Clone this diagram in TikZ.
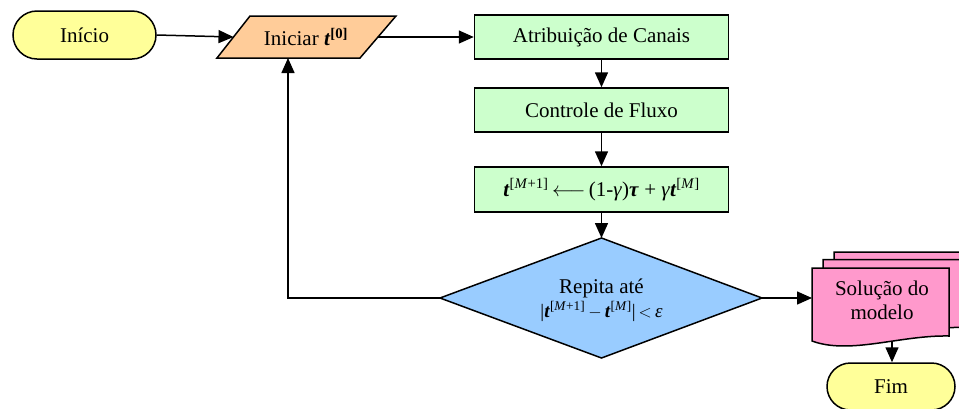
\documentclass[tikz,border=0pt]{standalone}
\usepackage{fontspec}
\setmainfont{Liberation Serif}
\usetikzlibrary{arrows.meta}
\definecolor{termfill}{HTML}{FFFF99}
\definecolor{iofill}{HTML}{FFCC99}
\definecolor{procfill}{HTML}{CCFFCC}
\definecolor{decfill}{HTML}{99CCFF}
\definecolor{docfill}{HTML}{FF99CC}
\newcommand{\bt}{\textbf{\textit{t}}}
\newcommand{\sps}[1]{\textsuperscript{#1}}
\tikzset{
  txt/.style={font=\rmfamily\fontsize{21}{24}\selectfont},
  base/.style={txt, draw, line width=1.5pt, inner sep=0pt},
  term/.style={base, fill=termfill, rounded corners=24pt, minimum width=143pt, minimum height=48pt},
  proc/.style={base, fill=procfill, minimum width=254pt, minimum height=44pt},
  shp/.style={draw, line width=1.5pt, line join=miter},
  lbl/.style={txt, align=center, inner sep=0pt},
  arr/.style={line width=1.5pt, -{Triangle[length=15pt,width=13pt]}},
}
\begin{document}
\begin{tikzpicture}[x=1pt,y=-1pt]
\useasboundingbox (0,0) rectangle (959,408);

% start terminator
\node[term] (start) at (84.5,35) {Início};

% parallelogram (input)
\draw[shp, fill=iofill] (217,58) -- (250,16) -- (396,16) -- (360,58) -- cycle;
\node[lbl] (ini) at (306,37) {Iniciar \bt\sps{\textbf{[0]}}};
\coordinate (inL) at (233.5,37);
\coordinate (inR) at (378,37);
\coordinate (inB) at (288,58);

% processes
\node[proc] (atr) at (601.5,37) {Atribuição de Canais};
\node[proc] (ctl) at (601.5,110) {Controle de Fluxo};
\node[proc, minimum height=45pt] (upd) at (601.5,189.5)
  {\bt\sps{[\textit{M}+1]}\,$\longleftarrow$\,(1-\textit{γ})\textbf{\textit{τ}} + \textit{γ}\bt\sps{[\textit{M}]}};

% decision diamond
\coordinate (dL) at (440,298);
\coordinate (dT) at (601.5,238);
\coordinate (dR) at (762,298);
\coordinate (dB) at (601.5,358);
\draw[shp, fill=decfill] (dL) -- (dT) -- (dR) -- (dB) -- cycle;
\node[lbl] (rep) at (601.5,300)
  {Repita até\\{\fontsize{19}{22}\selectfont|\bt\sps{[\textit{M}+1]}\,$-$\,\bt\sps{[\textit{M}]}|\,$<$\,\textit{ε}}};

% multi-document
\foreach \dx/\dy in {22/-16, 11/-8.5, 0/0}{
  \begin{scope}[shift={(\dx,\dy)}]
    \draw[shp, fill=docfill] (812,268) -- (949,268) -- (949,336)
      .. controls (900,335) and (850,355) .. (812,341) -- cycle;
  \end{scope}
}
\node[lbl] (sol) at (882,300) {Solução do\\modelo};
\coordinate (docL) at (812,298);
\coordinate (docB) at (892,341);

% end terminator
\node[term, minimum width=128pt, minimum height=47pt, rounded corners=23.5pt] (fim) at (891,386.5) {Fim};

% connectors
\draw[arr] (start.east) -- (inL);
\draw[arr] (inR) -- (atr.west);
\draw[arr] (atr.south) -- (ctl.north);
\draw[arr] (ctl.south) -- (upd.north);
\draw[arr] (upd.south) -- (dT);
\draw[arr] (dR) -- (docL);
\draw[arr] (docB) -- (fim.north -| docB);
\draw[arr] (dL) -| (inB);
\end{tikzpicture}
\end{document}
